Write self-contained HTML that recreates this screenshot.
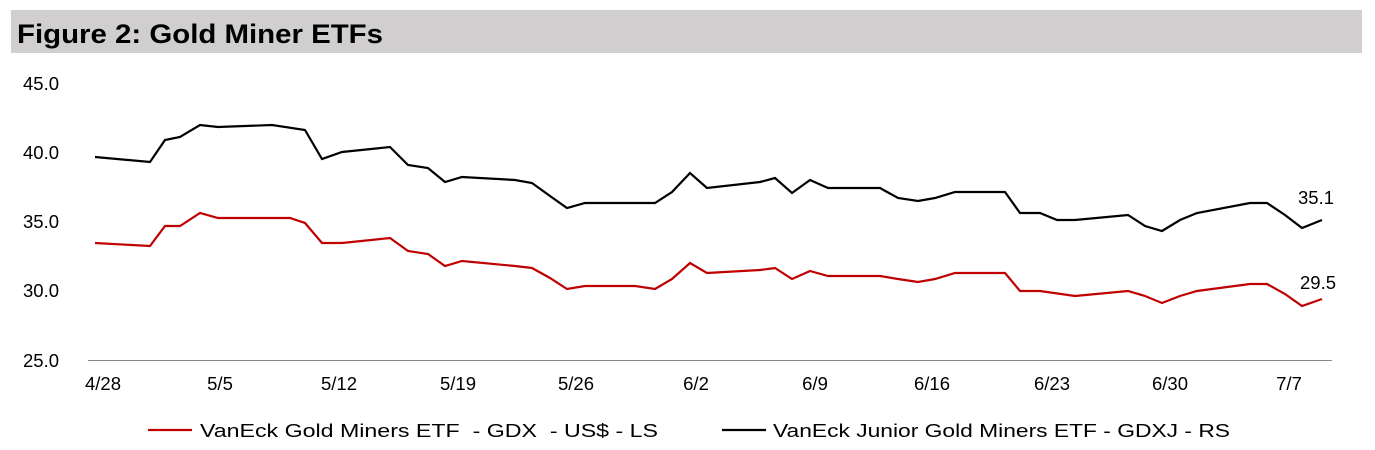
<!DOCTYPE html>
<html><head><style>
body{margin:0;background:#fff;}
svg{display:block;font-family:"Liberation Sans",Arial,sans-serif;}
</style></head><body>
<svg width="1375" height="450" viewBox="0 0 1375 450">
<rect x="11" y="10" width="1351" height="43" fill="#d0cece"/>
<text x="17" y="43" font-size="27" font-weight="bold" textLength="366" lengthAdjust="spacingAndGlyphs">Figure 2: Gold Miner ETFs</text>
<g font-size="18.5" fill="#000">
<text x="23" y="90">45.0</text>
<text x="23" y="159">40.0</text>
<text x="23" y="228">35.0</text>
<text x="23" y="297">30.0</text>
<text x="23" y="367">25.0</text>
</g>
<line x1="88" y1="360.5" x2="1332" y2="360.5" stroke="#888" stroke-width="1"/>
<g font-size="18.5" text-anchor="middle">
<text x="103" y="390">4/28</text><text x="220" y="390">5/5</text><text x="339" y="390">5/12</text>
<text x="458" y="390">5/19</text><text x="576" y="390">5/26</text><text x="696" y="390">6/2</text>
<text x="815" y="390">6/9</text><text x="932" y="390">6/16</text><text x="1052" y="390">6/23</text>
<text x="1170" y="390">6/30</text><text x="1289" y="390">7/7</text>
</g>
<polyline fill="none" stroke="#000" stroke-width="2.2" points="95,157 150,162 165,140 180,137 200,125 218,127 272,125 305,130 322,159 342,152 390,147 408,165 428,168 445,182 462,177 515,180 532,183 550,196 567,208 585,203 655,203 672,192 690,173 707,188 760,182 775,178 792,193 810,180 828,188 880,188 898,198 918,201 935,198 955,192 1005,192 1020,213 1040,213 1057,220 1075,220 1128,215 1145,226 1162,231 1180,220 1197,213 1250,203 1267,203 1285,215 1302,228 1322,220"/>
<polyline fill="none" stroke="#c00000" stroke-width="2.2" points="95,243 150,246 165,226 180,226 200,213 218,218 290,218 305,223 322,243 342,243 390,238 408,251 428,254 445,266 462,261 515,266 532,268 550,278 567,289 585,286 635,286 655,289 672,279 690,263 707,273 760,270 775,268 792,279 810,271 828,276 880,276 898,279 918,282 935,279 955,273 1005,273 1020,291 1040,291 1075,296 1128,291 1145,296 1162,303 1180,296 1197,291 1250,284 1267,284 1285,294 1302,306 1322,299"/>
<text x="1298" y="204" font-size="18.5">35.1</text>
<text x="1300" y="289" font-size="18.5">29.5</text>
<line x1="148" y1="430" x2="192" y2="430" stroke="#c00000" stroke-width="2.2"/>
<text x="200" y="437" font-size="18" xml:space="preserve" textLength="458" lengthAdjust="spacingAndGlyphs">VanEck Gold Miners ETF  - GDX  - US$ - LS</text>
<line x1="722" y1="430" x2="766" y2="430" stroke="#000" stroke-width="2.2"/>
<text x="773" y="437" font-size="18" textLength="457" lengthAdjust="spacingAndGlyphs">VanEck Junior Gold Miners ETF - GDXJ - RS</text>
</svg>
</body></html>
